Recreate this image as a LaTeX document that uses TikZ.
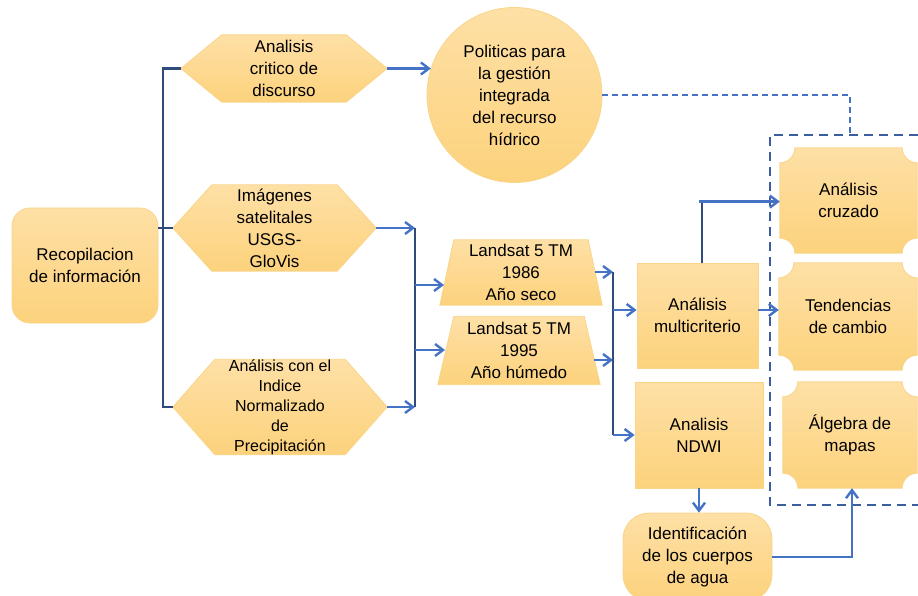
\documentclass[tikz,border=0pt]{standalone}
\usepackage{fontspec}
\setmainfont{Liberation Sans}
\usetikzlibrary{arrows.meta,calc}
\pgfdeclarelayer{background}
\pgfsetlayers{background,main}
\definecolor{fillt}{HTML}{FEE0A6}
\definecolor{fillb}{HTML}{FCD27C}
\definecolor{edgecol}{HTML}{F9D58A}
\definecolor{navy}{HTML}{2F4B7C}
\definecolor{arrblue}{HTML}{4472C4}
\definecolor{dashblue}{HTML}{3D5E9E}
\tikzset{
  txt/.style={align=center, font=\fontsize{17}{22}\selectfont, inner sep=0pt, text=black},
  shp/.style={top color=fillt, bottom color=fillb, draw=edgecol, line width=0.8pt},
  arr/.style={draw=arrblue, line width=2.4pt, -{Straight Barb[length=8pt,width=12pt]}},
  navyline/.style={draw=navy, line width=2.3pt},
  thindash/.style={draw=arrblue, line width=1.5pt, dash pattern=on 6pt off 4pt},
  boxdash/.style={draw=dashblue, line width=2.4pt, dash pattern=on 9pt off 6pt}
}
\newcommand\hexshape[2]{%
  \shade[shp] (#1.west) -- ([xshift=#2pt]#1.north west) -- ([xshift=-#2pt]#1.north east)
    -- (#1.east) -- ([xshift=-#2pt]#1.south east) -- ([xshift=#2pt]#1.south west) -- cycle;}
\newcommand\trapshape[2]{%
  \shade[shp] (#1.south west) -- ([xshift=#2pt]#1.north west) -- ([xshift=-#2pt]#1.north east)
    -- (#1.south east) -- cycle;}
\newcommand\plaqueshape[1]{%
  \shade[shp] ([yshift=-15pt]#1.north west) arc[start angle=-90,end angle=0,radius=15pt]
    -- ([xshift=-15pt]#1.north east) arc[start angle=180,end angle=270,radius=15pt]
    -- ([yshift=15pt]#1.south east) arc[start angle=90,end angle=180,radius=15pt]
    -- ([xshift=15pt]#1.south west) arc[start angle=0,end angle=90,radius=15pt]
    -- cycle;}
\begin{document}
\begin{tikzpicture}[x=1pt,y=-1pt]
\useasboundingbox (0,0) rectangle (918,596);

% dashed frame
\coordinate (dbtr) at (918,135);
\coordinate (dbtl) at (770,135);
\coordinate (dbbl) at (770,505);
\coordinate (dbbr) at (918,505);
\draw[boxdash] (dbtr) -- (dbtl) -- (dbbl) -- (dbbr);

% nodes
\node[txt, shp, rounded corners=18pt, minimum width=146pt, minimum height=115pt] (rec) at (85,265.5) {Recopilacion\\de información};
\node[txt, minimum width=206pt, minimum height=67pt] (h1) at (284,68.5) {Analisis\\critico de\\discurso};
\node[txt, minimum width=203pt, minimum height=86pt] (h2) at (274.5,228) {Imágenes\\satelitales\\USGS-\\GloVis};
\node[txt, font=\fontsize{16}{20}\selectfont, minimum width=214pt, minimum height=94pt] (h3) at (280,407) {Análisis con el\\Indice\\Normalizado\\de\\Precipitación};
\node[txt, shp, circle, minimum size=175pt] (circ) at (514.5,95) {Politicas para\\la gestión\\integrada\\del recurso\\hídrico};
\node[txt, minimum width=162pt, minimum height=65pt] (t1) at (521,272.5) {Landsat 5 TM\\1986\\Año seco};
\node[txt, minimum width=162pt, minimum height=68pt] (t2) at (519,350.5) {Landsat 5 TM\\1995\\Año húmedo};
\node[txt, shp, minimum width=121pt, minimum height=105pt] (mc) at (697.5,315.5) {Análisis\\multicriterio};
\node[txt, shp, minimum width=128pt, minimum height=106pt] (nd) at (699,435) {Analisis\\NDWI};
\node[txt, shp, rounded corners=26pt, minimum width=149pt, minimum height=88pt] (id) at (697.5,557) {Identificación\\de los cuerpos\\de agua};
\node[txt, minimum width=137pt, minimum height=105pt] (cz) at (848.5,200.5) {Análisis\\cruzado};
\node[txt, minimum width=138pt, minimum height=107pt] (td) at (848,316.5) {Tendencias\\de cambio};
\node[txt, minimum width=134pt, minimum height=106pt] (al) at (850,435) {Álgebra de\\mapas};

\begin{pgfonlayer}{background}
\hexshape{h1}{41}
\hexshape{h2}{39}
\hexshape{h3}{42}
\trapshape{t1}{14}
\trapshape{t2}{16}
\plaqueshape{cz}
\plaqueshape{td}
\plaqueshape{al}
\end{pgfonlayer}

% left bracket
\coordinate (bx) at (163,0);
\draw[navyline] (h1.west) -| (bx |- h3.west) -- (h3.west);
\draw[navyline] (rec.east |- h2.west) -- (h2.west);

% to policies
\draw[arr] (h1.east) -- (h1.east -| circ.162);
\draw[thindash] (circ.east) -| (dbtl -| 850,0);

% second bracket
\coordinate (b2) at (415,0);
\draw[arr] (h2.east) -- (h2.east -| b2);
\draw[arr] (h3.east) -- (h3.east -| b2);
\draw[navyline] (h2.east -| b2) -- (h3.east -| b2);
\coordinate (t1in) at (444,285);
\coordinate (t2in) at (445,350);
\draw[arr] (b2 |- t1in) -- (t1in);
\draw[arr] (b2 |- t2in) -- (t2in);

% third bracket
\coordinate (b3) at (613,0);
\coordinate (t1out) at (595,272);
\coordinate (t2out) at (594,360);
\coordinate (mcin) at ([yshift=5.5pt]mc.west);
\draw[arr] (t1out) -- (t1out -| b3);
\draw[arr] (t2out) -- (t2out -| b3);
\draw[navyline] (t1out -| b3) -- (b3 |- nd.west);
\draw[arr] (b3 |- mcin) -- (mcin);
\draw[arr] (b3 |- nd.west) -- (nd.west);

% to right boxes
\coordinate (mctop) at ([xshift=4.5pt]mc.north);
\coordinate (mcup) at ([yshift=61pt]mctop);
\draw[navyline] (mctop) -- (mcup);
\draw[arr] ([xshift=-3pt]mcup) -- (mcup -| cz.west);
\coordinate (mcr) at ([yshift=5.5pt]mc.east);
\draw[arr] (mcr) -- (mcr -| td.west);
\draw[arr] (nd.south) -- (nd.south |- id.north);
\draw[arr] (id.east) -| ([xshift=2pt]al.south);
\end{tikzpicture}
\end{document}
